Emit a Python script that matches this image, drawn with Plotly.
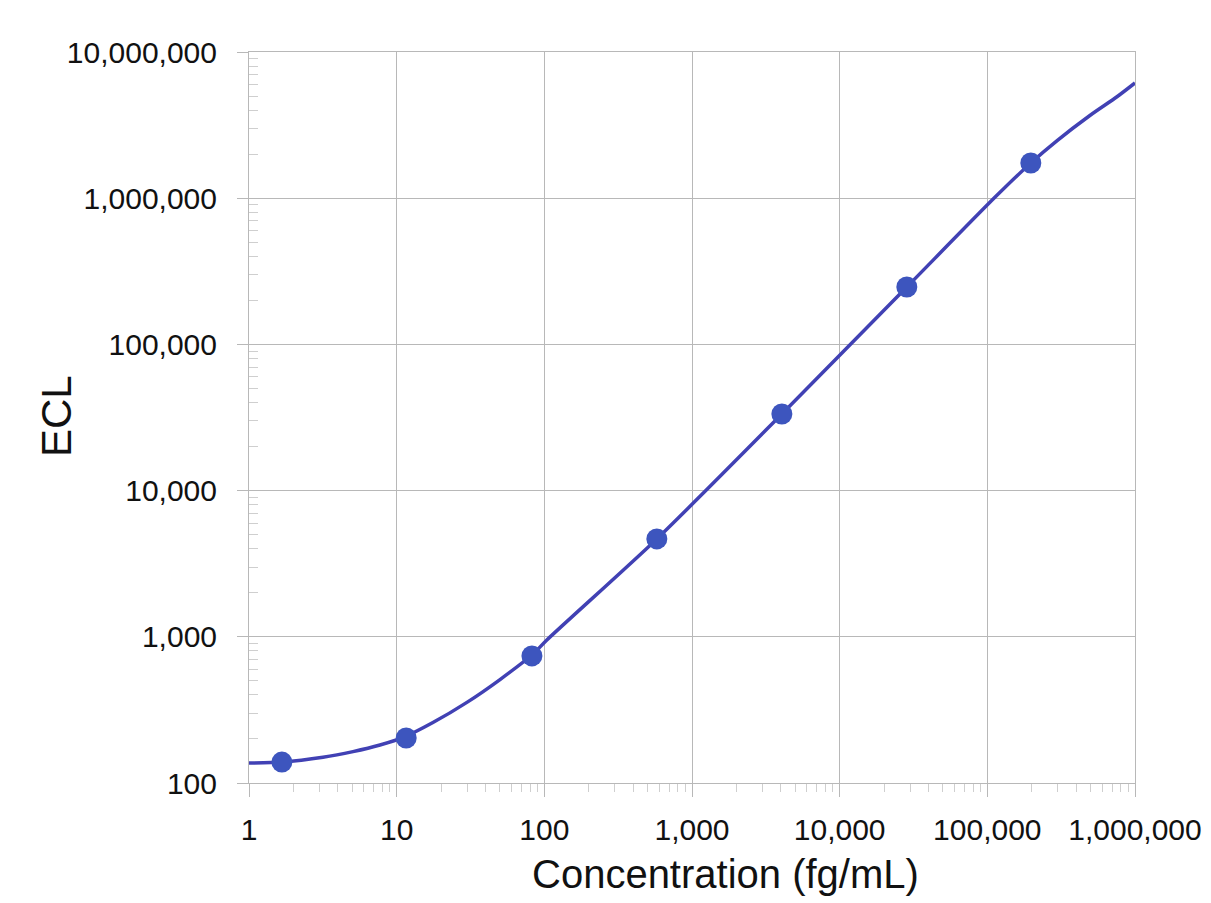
import plotly.graph_objects as go

# Calibrator measurements (concentration in fg/mL, ECL signal)
conc = [1.67, 11.6, 82.4, 578, 4060, 28500, 197000]
ecl = [139, 203, 740, 4670, 33400, 247000, 1740000]

# Fitted standard curve, sampled along its length
fit_conc = [1, 1.67, 3.17, 5.06, 7.71, 11.2, 17.6, 29.9, 50.1, 83.8, 104,
            578, 4060, 28500, 113000, 197000, 297000, 495000, 755000, 1000000]
fit_ecl = [137, 139, 150, 164, 182, 206, 259, 356, 510, 762, 951,
           4670, 33400, 247000, 1018000, 1742000, 2480000, 3680000, 4940000, 6140000]

# Axis tick labels
x_ticks = [1, 10, 100, 1000, 10000, 100000, 1000000]
x_labels = ["1", "10", "100", "1,000", "10,000", "100,000", "1,000,000"]
y_ticks = [100, 1000, 10000, 100000, 1000000, 10000000]
y_labels = ["100", "1,000", "10,000", "100,000", "1,000,000", "10,000,000"]

LINE = "#4141b4"
MARKER = "#3d55be"
GRID = "#b8b8b8"
FONT = "Liberation Sans, Arial, sans-serif"


def minor_vals(majors):
    vals = []
    for m in majors[:-1]:
        vals += [m * k for k in range(2, 10)]
    return vals


fig = go.Figure()
fig.add_trace(go.Scatter(
    x=fit_conc, y=fit_ecl, mode="lines",
    line=dict(color=LINE, width=3.5, shape="spline", smoothing=0.7),
    hoverinfo="skip", showlegend=False,
))
fig.add_trace(go.Scatter(
    x=conc, y=ecl, mode="markers",
    marker=dict(color=MARKER, size=21, line=dict(width=0)),
    showlegend=False,
))

fig.update_xaxes(
    type="log", range=[0, 6], automargin=False,
    tickmode="array", tickvals=x_ticks, ticktext=x_labels,
    ticks="outside", ticklen=13, tickcolor=GRID, tickwidth=1,
    ticklabelstandoff=7,
    showgrid=True, gridcolor=GRID, gridwidth=1,
    showline=True, linecolor=GRID, linewidth=1, mirror=True,
    minor=dict(tickmode="array", tickvals=minor_vals(x_ticks),
               ticks="outside", ticklen=8, tickcolor="#cfcfcf", showgrid=False),
    tickfont=dict(family=FONT, size=30, color="#111"),
    zeroline=False,
)
fig.update_yaxes(
    type="log", range=[2, 7], automargin=False,
    tickmode="array", tickvals=y_ticks, ticktext=y_labels,
    ticks="outside", ticklen=11, tickcolor=GRID, tickwidth=1,
    ticklabelstandoff=14,
    showgrid=True, gridcolor=GRID, gridwidth=1,
    showline=True, linecolor=GRID, linewidth=1, mirror=True,
    minor=dict(tickmode="array", tickvals=minor_vals(y_ticks),
               ticks="inside", ticklen=9, tickcolor="#cfcfcf", showgrid=False),
    tickfont=dict(family=FONT, size=30, color="#111"),
    zeroline=False,
)

fig.add_annotation(
    text="Concentration (fg/mL)", xref="paper", yref="paper",
    x=(725 - 249) / (1135 - 249), y=-(874 - 783) / (783 - 52),
    xanchor="center", yanchor="middle", showarrow=False,
    font=dict(family=FONT, size=40, color="#111"),
)
fig.add_annotation(
    text="ECL", xref="paper", yref="paper", textangle=-90,
    x=-(249 - 56) / (1135 - 249), y=(783 - 416) / (783 - 52),
    xanchor="center", yanchor="middle", showarrow=False,
    font=dict(family=FONT, size=42, color="#111"),
)

fig.update_layout(
    width=1211, height=903,
    margin=dict(l=249, r=76, t=52, b=120),
    paper_bgcolor="white", plot_bgcolor="white",
    showlegend=False,
)

fig.write_html("out.html")
